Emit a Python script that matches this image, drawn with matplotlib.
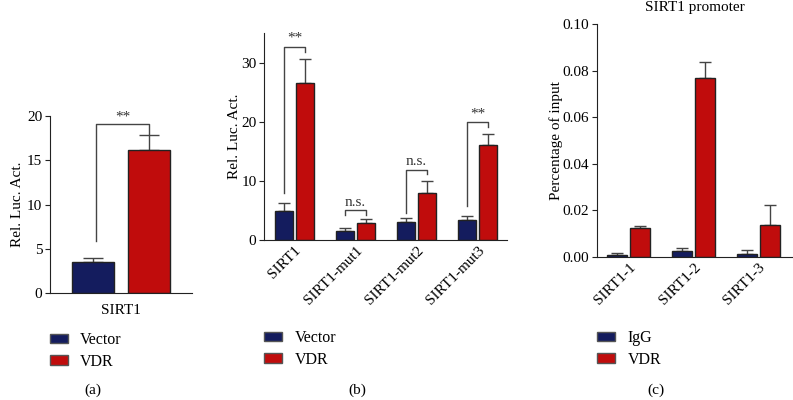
import matplotlib
matplotlib.use("Agg")
import matplotlib.pyplot as plt
import numpy as np
from matplotlib.patches import Patch
from matplotlib.ticker import FormatStrFormatter

plt.rcParams['font.family'] = ['Liberation Serif', 'DejaVu Serif']
plt.rcParams['font.size'] = 11

BLUE = '#141c5e'
RED = '#c00c0c'
EDGE = '#222222'
ERR = '#444444'

# (a) luciferase, SIRT1 only
a_cats = ['SIRT1']
a_vector = [3.5]
a_vector_err = [0.45]
a_vdr = [16.2]
a_vdr_err = [1.7]

# (b) luciferase, promoter mutants
b_cats = ['SIRT1', 'SIRT1-mut1', 'SIRT1-mut2', 'SIRT1-mut3']
b_vector = [4.9, 1.6, 3.1, 3.4]
b_vector_err = [1.4, 0.4, 0.7, 0.6]
b_vdr = [26.6, 2.9, 7.9, 16.1]
b_vdr_err = [4.0, 0.7, 2.1, 1.9]
b_marks = ['**', 'n.s.', 'n.s.', '**']
b_bracket_y = [32.7, 5.0, 11.9, 19.9]
b_left_end = [7.9, 4.2, 4.6, 5.7]
b_right_end = [31.9, 4.2, 11.2, 19.1]

# (c) ChIP
c_cats = ['SIRT1-1', 'SIRT1-2', 'SIRT1-3']
c_igg = [0.0008, 0.0027, 0.0012]
c_igg_err = [0.0009, 0.0011, 0.0017]
c_vdr = [0.0122, 0.0768, 0.0135]
c_vdr_err = [0.0009, 0.0070, 0.0088]


def style(ax, xpad=3):
    ax.spines['top'].set_visible(False)
    ax.spines['right'].set_visible(False)
    ax.spines['left'].set_color(EDGE)
    ax.spines['bottom'].set_color(EDGE)
    ax.tick_params(axis='x', length=0, pad=xpad)
    ax.tick_params(axis='y', length=3.5, color=EDGE, pad=2)


def bars(ax, x, v1, e1, v2, e2, off, w, cap):
    x = np.asarray(x, dtype=float)
    ax.bar(x - off, v1, w, color=BLUE, edgecolor=EDGE, linewidth=1, zorder=2)
    ax.bar(x + off, v2, w, color=RED, edgecolor=EDGE, linewidth=1, zorder=2)
    ax.errorbar(x - off, v1, yerr=[np.zeros(len(v1)), e1], fmt='none',
                ecolor=ERR, elinewidth=1, capsize=cap, capthick=1, zorder=1)
    ax.errorbar(x + off, v2, yerr=[np.zeros(len(v2)), e2], fmt='none',
                ecolor=ERR, elinewidth=1, capsize=cap, capthick=1, zorder=1)


def bracket(ax, x1, x2, y, yl, yr, txt, dy):
    ax.plot([x1, x1, x2, x2], [yl, y, y, yr], color=ERR, lw=1, zorder=3)
    ax.text((x1 + x2) / 2, y + dy, txt, ha='center', va='bottom',
            color='#333333', fontsize=11)


fig = plt.figure(figsize=(7.93, 4.0), dpi=100)

# ---- (a)
ax = fig.add_axes([0.063, 0.267, 0.179, 0.443])
xa = np.arange(len(a_cats))
bars(ax, xa, a_vector, a_vector_err, a_vdr, a_vdr_err, 0.28, 0.42, 7)
bracket(ax, xa[0] - 0.25, xa[0] + 0.28, 19.1, 5.9, 18.0, '**', 0.1)
ax.set_xlim(-0.71, 0.71)
ax.set_ylim(0, 20)
ax.set_yticks([0, 5, 10, 15, 20])
ax.set_xticks(xa)
ax.set_xticklabels(a_cats)
ax.set_ylabel('Rel. Luc. Act.', labelpad=2)
style(ax, xpad=8)

# ---- (b)
ax = fig.add_axes([0.333, 0.4, 0.306, 0.517])
xb = np.arange(len(b_cats))
bars(ax, xb, b_vector, b_vector_err, b_vdr, b_vdr_err, 0.17, 0.29, 4.5)
for i in range(len(b_cats)):
    bracket(ax, xb[i] - 0.17, xb[i] + 0.17, b_bracket_y[i], b_left_end[i],
            b_right_end[i], b_marks[i], 0.3)
ax.set_xlim(-0.5, 3.48)
ax.set_ylim(0, 35)
ax.set_yticks([0, 10, 20, 30])
ax.set_xticks(xb)
ax.set_xticklabels(b_cats, rotation=45, ha='right', rotation_mode='anchor')
ax.set_ylabel('Rel. Luc. Act.', labelpad=0)
style(ax)

# ---- (c)
ax = fig.add_axes([0.753, 0.358, 0.246, 0.582])
xc = np.arange(len(c_cats))
bars(ax, xc, c_igg, c_igg_err, c_vdr, c_vdr_err, 0.177, 0.31, 4.5)
ax.set_xlim(-0.49, 2.52)
ax.set_ylim(0, 0.1)
ax.set_yticks([0, 0.02, 0.04, 0.06, 0.08, 0.10])
ax.yaxis.set_major_formatter(FormatStrFormatter('%.2f'))
ax.set_xticks(xc)
ax.set_xticklabels(c_cats, rotation=45, ha='right', rotation_mode='anchor')
ax.set_ylabel('Percentage of input', labelpad=0)
ax.set_title('SIRT1 promoter', fontsize=11, pad=9)
style(ax)

# legends
def legend(x, y, labels):
    handles = [Patch(facecolor=BLUE, edgecolor='#555555'),
               Patch(facecolor=RED, edgecolor='#555555')]
    fig.legend(handles, labels, loc='upper left', bbox_to_anchor=(x, y),
               frameon=False, handlelength=1.1, handleheight=0.55,
               labelspacing=0.35, handletextpad=0.8, borderaxespad=0,
               borderpad=0, fontsize=11.5)

legend(0.063, 0.17, ['Vector', 'VDR'])
legend(0.333, 0.175, ['Vector', 'VDR'])
legend(0.753, 0.175, ['IgG', 'VDR'])

fig.text(0.117, 0.025, '(a)', ha='center', va='center', fontsize=11)
fig.text(0.45, 0.025, '(b)', ha='center', va='center', fontsize=11)
fig.text(0.827, 0.025, '(c)', ha='center', va='center', fontsize=11)

fig.savefig('out.png', dpi=100)
